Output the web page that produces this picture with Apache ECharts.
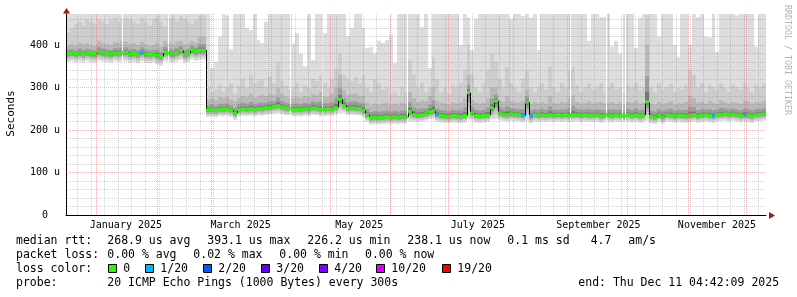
<!DOCTYPE html>
<html><head><meta charset="utf-8">
<script src="https://cdn.jsdelivr.net/npm/echarts@6/dist/echarts.min.js"></script>
<style>html,body{margin:0;padding:0;background:#fff}#c{width:797px;height:297px}</style>
</head><body><div id="c"></div>
<script>
// ---------- time frame ----------
const START = Date.UTC(2024, 11, 16, 4, 42, 9);
const END = Date.UTC(2025, 11, 11, 4, 42, 9);
const BIN_DAYS = 2;
const DAY = 86400000;
const Y_MAX = 473;

// ---------- median rtt per 2-day bin (us) ----------
const median = [
380,381,379,381,378,381,380,379,384,382,
380,379,381,380,382,383,379,380,378,383,
379,378,380,376,373,384,381,379,382,387,
378,380,389,385,388,388,
247,248,246,249,
248,250,247,240,248,250,249,250,248,251,
250,252,253,255,257,254,251,251,248,249,
248,250,249,252,251,248,249,250,249,253,
272,258,251,252,251,250,246,236,229,230,
229,230,231,230,231,230,231,231,244,236,
235,236,238,243,245,236,234,233,232,234,
233,232,234,288,240,234,233,234,235,252,
268,240,237,236,238,237,236,234,266,233,
236,235,236,235,236,235,236,235,236,234,
236,237,235,236,235,235,236,233,235,236,
234,236,235,233,236,234,236,233,235,266,
232,230,235,231,236,235,233,235,234,233,
235,236,233,235,236,234,233,236,237,238,
236,238,236,234,236,235,233,236,237,238
];
// max ping per bin (values above the axis top are clipped)
const smokeTop = [
480,480,480,480,480,480,480,480,480,480,
480,480,480,480,480,480,480,480,480,480,
480,480,480,480,480,480,480,480,480,480,
480,480,480,480,480,480,
480,345,360,420,
480,470,390,480,480,480,440,435,480,412,
405,455,480,480,480,480,480,480,404,428,
380,350,480,365,480,480,428,480,480,480,
480,480,420,440,480,480,440,393,395,381,
410,405,412,423,357,480,480,480,480,480,
480,442,480,346,480,480,480,480,480,480,
480,400,480,465,388,462,480,480,480,480,
480,480,480,480,462,480,480,468,480,465,
480,388,480,480,480,480,480,480,480,480,
480,480,480,480,410,480,480,466,466,480,
396,410,380,480,480,480,393,465,480,480,
480,480,420,480,480,480,400,372,480,480,
400,480,466,480,420,418,480,384,480,480,
480,480,470,480,480,480,480,396,480,480
];
// upper edge of the second smoke band
const smokeHigh = [
430,440,450,455,445,460,455,450,460,455,
450,460,465,455,460,465,460,455,450,465,
455,445,460,465,455,445,460,465,455,468,
460,455,450,460,470,470,
300,290,295,305,
290,300,310,285,305,320,300,330,310,315,
320,300,325,310,360,315,305,295,300,310,
290,305,300,320,315,330,310,300,320,345,
380,330,320,315,325,310,330,300,290,320,
310,295,300,285,290,280,300,290,365,330,
300,310,290,300,372,320,290,300,285,305,
300,310,341,400,330,300,290,310,341,380,
360,320,300,349,310,300,290,320,340,300,
290,300,310,295,349,300,290,310,300,340,
349,305,290,300,310,295,300,310,290,300,
310,295,300,290,305,300,310,295,300,470,
300,290,310,295,300,310,290,300,295,305,
341,330,300,310,290,305,300,295,310,300,
290,305,300,295,310,300,290,305,300,310
];
// upper edge of the third smoke band
const smokeMid = [
400,402,398,405,400,404,400,398,410,405,
402,400,408,405,410,408,402,404,400,408,
402,398,400,404,396,410,405,402,408,410,
402,404,410,406,420,420,
272,275,270,278,
275,278,272,268,276,280,278,285,276,280,
282,280,285,282,300,285,280,275,276,278,
275,280,278,285,282,290,280,278,285,300,
330,295,282,285,286,280,282,265,258,262,
260,262,264,260,262,260,264,262,290,275,
266,270,268,280,300,268,264,262,260,265,
262,264,275,330,270,265,262,264,275,300,
300,270,266,280,268,265,264,268,295,262,
265,262,266,262,280,264,262,266,264,275,
282,266,262,264,268,262,265,266,262,264,
266,262,265,260,266,264,268,262,264,400,
262,260,266,262,264,268,260,264,262,266,
280,275,264,266,262,268,264,262,270,266,
262,266,264,262,268,266,262,266,264,268
];
// min ping per bin
const smokeBottom = [
360,362,359,361,358,362,360,358,363,361,
360,358,362,360,361,362,358,360,357,362,
358,357,360,355,352,362,360,358,361,365,
357,360,366,363,365,366,
231,232,230,233,
232,234,231,224,232,234,233,234,232,235,
234,236,237,239,240,238,235,235,232,233,
232,234,233,236,235,232,233,234,233,237,
240,241,235,236,235,234,230,220,213,214,
213,214,215,214,215,214,215,215,220,220,
219,220,222,225,226,220,218,217,216,218,
217,216,218,225,222,218,217,218,219,225,
226,223,221,220,222,221,220,218,222,216,
220,219,220,219,220,219,220,219,220,218,
220,221,219,220,219,219,220,217,219,220,
218,220,219,217,220,218,220,217,219,222,
216,214,219,215,220,219,217,219,218,217,
219,220,217,219,220,218,217,220,221,222,
220,222,220,218,220,219,217,220,221,222
];
// bins where 1/20 packets were lost
const lossBins = [19, 95, 117, 119, 166, 174];
// moments with no data
const gapTimes = ['2025-01-13T20:00:00Z','2025-02-06T19:00:00Z','2025-04-10T09:00:00Z',
  '2025-04-26T16:00:00Z','2025-06-09T09:00:00Z','2025-09-01T09:00:00Z',
  '2025-09-19T21:00:00Z','2025-09-28T05:00:00Z','2025-09-29T17:00:00Z'];

// ---------- axes ----------
const monthStarts = ['2025-01-01','2025-02-01','2025-03-01','2025-04-01','2025-05-01','2025-06-01',
  '2025-07-01','2025-08-01','2025-09-01','2025-10-01','2025-11-01','2025-12-01'];
const monthLabelDates = ['2025-01-16','2025-03-16','2025-05-16','2025-07-16','2025-09-16','2025-11-16'];
const monthLabels = ['January 2025','March 2025','May 2025','July 2025','September 2025','November 2025'];
const firstWeekTick = '2024-12-22';
const yMajorTicks = [100, 200, 300, 400];
const yMinorTicks = [20,40,60,80,120,140,160,180,220,240,260,280,320,340,360,380,420,440,460];
const yLabelValues = [0, 100, 200, 300, 400];
const yLabelTexts = ['0  ', '100 u', '200 u', '300 u', '400 u'];

// ---------- legend texts ----------
const lossColorNames = ['0', '1/20', '2/20', '3/20', '4/20', '10/20', '19/20'];
const lossColors = ['#26ff00', '#00b8ff', '#0059ff', '#5e00ff', '#7e00ff', '#dd00ff', '#ff0000'];
const rttStats = ['median rtt:', '268.9 us avg', '393.1 us max', '226.2 us min', '238.1 us now', '0.1 ms sd', '4.7', 'am/s'];
const lossStats = ['packet loss:', '0.00 % avg', '0.02 % max', '0.00 % min', '0.00 % now'];
const probeText = ['probe:', '20 ICMP Echo Pings (1000 Bytes) every 300s'];
const endText = 'end: Thu Dec 11 04:42:09 2025';

// ---------- build ----------
const ts = s => new Date(s.length === 10 ? s + 'T00:00:00Z' : s).getTime();
const weekTicks = [];
for (let t = ts(firstWeekTick); t < END; t += 7 * DAY) weekTicks.push(t);
const monthTicks = monthStarts.map(ts);
const labelTicks = monthLabelDates.map(ts);

const smokeData = median.map((m, i) => [
  START + i * BIN_DAYS * DAY, START + (i + 1) * BIN_DAYS * DAY,
  smokeBottom[i], smokeHigh[i], smokeMid[i], m, smokeTop[i]
]);
const medianData = median.map((m, i) => [
  START + i * BIN_DAYS * DAY, START + (i + 1) * BIN_DAYS * DAY,
  m, i > 0 ? median[i - 1] : m, lossBins.indexOf(i) >= 0 ? 1 : 0
]);
const gapData = gapTimes.map(s => [new Date(s).getTime(), Y_MAX]);

const MONO = '"DejaVu Sans Mono", "Liberation Mono", monospace';

function renderSmoke(params, api) {
  const t0 = api.value(0), t1 = api.value(1);
  const bot = api.value(2), hi = api.value(3), mid = api.value(4), med = api.value(5);
  const top = Math.min(api.value(6), Y_MAX);
  const x0 = Math.round(api.coord([t0, 0])[0]);
  const x1 = Math.round(api.coord([t1, 0])[0]);
  const Y = v => api.coord([t0, Math.min(v, top)])[1];
  const midE = Math.max(mid, med + 4);
  const hiE = Math.max(hi, midE);
  const bands = [
    [bot, top, '#dddddd'],
    [med - 0.75 * (med - bot), hiE, '#cdcdcd'],
    [med - 0.55 * (med - bot), midE, '#b8b8b8'],
    [med - 0.35 * (med - bot), med + 0.45 * (midE - med), '#9c9c9c'],
    [med - 0.18 * (med - bot), med + 0.18 * (midE - med), '#767676']
  ];
  const children = [];
  bands.forEach(b => {
    const yt = Y(b[1]), yb = Y(b[0]);
    if (yb - yt > 0.01) children.push({type: 'rect', shape: {x: x0, y: yt, width: x1 - x0, height: yb - yt}, style: {fill: b[2]}});
  });
  return {type: 'group', children};
}
function renderMedian(params, api) {
  const t0 = api.value(0), t1 = api.value(1);
  const med = api.value(2), prev = api.value(3), loss = api.value(4);
  const x0 = Math.round(api.coord([t0, 0])[0]);
  const x1 = Math.round(api.coord([t1, 0])[0]);
  const y = api.coord([t0, med])[1];
  const yp = api.coord([t0, prev])[1];
  const children = [];
  if (Math.abs(yp - y) > 1.5) {
    children.push({type: 'line', shape: {x1: x0 + 0.5, y1: yp, x2: x0 + 0.5, y2: y}, style: {stroke: '#000', lineWidth: 1}});
  }
  children.push({type: 'rect', shape: {x: x0, y: y - 1.5, width: x1 - x0, height: 3}, style: {fill: lossColors[loss]}});
  return {type: 'group', children};
}
function renderGap(params, api) {
  const p = api.coord([api.value(0), api.value(1)]);
  const b = api.coord([api.value(0), 0]);
  return {type: 'rect', shape: {x: Math.round(p[0]), y: p[1], width: 1, height: b[1] - p[1]}, style: {fill: '#ffffff'}};
}

const minorLine = {show: true, lineStyle: {color: 'rgba(120,120,120,0.33)', type: [1, 1], width: 1}};
const majorLine = {show: true, lineStyle: {color: 'rgba(225,80,80,0.42)', type: [1, 1], width: 1}};

// ---------- legend graphics ----------
const graphics = [];
const txt = (x, y, s, extra) => Object.assign({type: 'text', x, y, silent: true,
  style: Object.assign({text: s, font: '11.5px ' + MONO, fill: '#000', verticalAlign: 'middle'}, extra || {})});
const rttX = [16, 107.3, 207.3, 307.3, 407.3, 507.3, 590.7, 628.3];
rttStats.forEach((s, i) => graphics.push(txt(rttX[i], 241.5, s)));
const lossX = [16, 107.3, 193.3, 279.3, 365];
lossStats.forEach((s, i) => graphics.push(txt(lossX[i], 255, s)));
graphics.push(txt(16, 269, 'loss color:'));
const boxX = [108.5, 145.5, 203.5, 261.5, 319.5, 376.5, 442.5];
lossColorNames.forEach((s, i) => {
  graphics.push({type: 'rect', shape: {x: boxX[i], y: 264.5, width: 8, height: 8},
    style: {fill: lossColors[i], stroke: '#000', lineWidth: 1}});
  graphics.push(txt(boxX[i] + 14.8, 269, s));
});
graphics.push(txt(16, 282.7, probeText[0]));
graphics.push(txt(107.3, 282.7, probeText[1]));
graphics.push(txt(578.3, 282.7, endText));
graphics.push({type: 'text', x: 11, y: 113.5, rotation: Math.PI / 2,
  style: {text: 'Seconds', font: '11px ' + MONO, fill: '#000', align: 'center', verticalAlign: 'middle'}});
graphics.push({type: 'text', x: 787, y: 60, rotation: -Math.PI / 2,
  style: {text: 'RRDTOOL / TOBI OETIKER', font: '8.3px ' + MONO, fill: '#b4b4b4', align: 'center', verticalAlign: 'middle'}});
graphics.push({type: 'polygon', shape: {points: [[769, 212], [775, 215.5], [769, 219]]}, style: {fill: '#a01818'}});
graphics.push({type: 'polygon', shape: {points: [[63, 13.5], [66.5, 8], [70, 13.5]]}, style: {fill: '#a01818'}});

const chart = echarts.init(document.getElementById('c'), null, {renderer: 'canvas'});
chart.setOption({
  animation: false,
  backgroundColor: '#ffffff',
  grid: {left: 66, right: 31, top: 14, bottom: 82, containLabel: false},
  xAxis: [
    {type: 'value', min: START, max: END, position: 'bottom', z: 5,
      axisLine: {show: true, onZero: false, lineStyle: {color: '#000', width: 1}},
      axisTick: {show: false, customValues: weekTicks}, axisLabel: {show: false}, splitLine: minorLine},
    {type: 'value', min: START, max: END, position: 'bottom', z: 6,
      axisLine: {show: false}, axisTick: {show: false, customValues: monthTicks}, axisLabel: {show: false}, splitLine: majorLine},
    {type: 'value', min: START, max: END, position: 'bottom', z: 6,
      axisLine: {show: false}, axisTick: {show: false}, splitLine: {show: false},
      axisLabel: {show: true, customValues: labelTicks, margin: 5, fontSize: 10, fontFamily: MONO, color: '#000',
        formatter: v => { const k = labelTicks.indexOf(v); return k >= 0 ? monthLabels[k] : ''; }}}
  ],
  yAxis: [
    {type: 'value', min: 0, max: Y_MAX, position: 'left', z: 5,
      axisLine: {show: true, lineStyle: {color: '#000', width: 1}},
      axisTick: {show: false, customValues: yMinorTicks}, splitLine: minorLine,
      axisLabel: {show: true, customValues: yLabelValues, margin: 6, fontSize: 10, fontFamily: MONO, color: '#000',
        formatter: v => { const k = yLabelValues.indexOf(v); return k >= 0 ? yLabelTexts[k] : ''; }}},
    {type: 'value', min: 0, max: Y_MAX, position: 'left', z: 6,
      axisLine: {show: false}, axisTick: {show: false, customValues: yMajorTicks}, axisLabel: {show: false}, splitLine: majorLine}
  ],
  series: [
    {type: 'custom', name: 'smoke', xAxisIndex: 0, yAxisIndex: 0, z: 1, silent: true,
      renderItem: renderSmoke, data: smokeData, encode: {x: [0, 1], y: [2, 6]}},
    {type: 'custom', name: 'gaps', xAxisIndex: 0, yAxisIndex: 0, z: 2, silent: true,
      renderItem: renderGap, data: gapData, encode: {x: 0, y: 1}},
    {type: 'custom', name: 'median', xAxisIndex: 0, yAxisIndex: 0, z: 3, silent: true,
      renderItem: renderMedian, data: medianData, encode: {x: [0, 1], y: 2}}
  ],
  graphic: graphics
});
</script></body></html>
